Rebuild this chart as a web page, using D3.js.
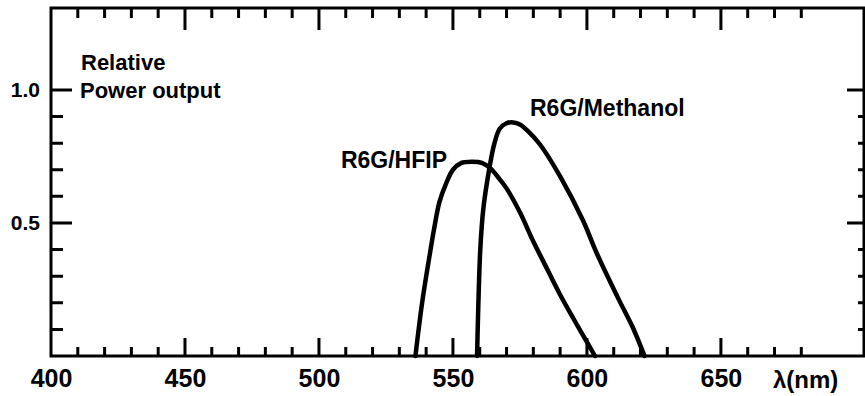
<!DOCTYPE html>
<html>
<head>
<meta charset="utf-8">
<script src="https://cdn.jsdelivr.net/npm/d3@7"></script>
<style>
    body { margin: 0; background: #fff; }
    svg { display: block; }
    .frame { fill: none; stroke: #000; stroke-width: 3; }
    .axis path.domain { display: none; }
    .axis text { font-family: "Liberation Sans", Arial, sans-serif; font-weight: bold; fill: #000; }
    .curve { fill: none; stroke: #000; stroke-width: 4.5; stroke-linejoin: round; stroke-linecap: round; }
    .note { font-family: "Liberation Sans", Arial, sans-serif; font-weight: bold; fill: #000; }
</style>
</head>
<body>
<svg class="graph"></svg>
<script>
// wavelength (nm) / relative power
const hfipNm = [536, 538.5, 541, 543, 545, 547.5, 550, 553, 557, 561, 564, 567, 570, 575, 580, 584, 590, 595, 599, 603];
const hfipPower = [0, 0.2, 0.36, 0.48, 0.58, 0.65, 0.70, 0.725, 0.73, 0.725, 0.705, 0.67, 0.63, 0.54, 0.43, 0.35, 0.23, 0.14, 0.07, 0];

const methanolNm = [559, 559.5, 560.2, 561.3, 563.5, 565.5, 567.5, 570, 572.5, 575, 578, 582.5, 590, 598.5, 603.5, 612, 617, 621.5];
const methanolPower = [0, 0.2, 0.4, 0.55, 0.70, 0.80, 0.855, 0.875, 0.878, 0.87, 0.845, 0.795, 0.675, 0.51, 0.39, 0.21, 0.11, 0];

// ticks
const xTicks = d3.range(410, 690, 10);
const xMajor = [450, 500, 550, 600, 650];
const xLabels = [400, 450, 500, 550, 600, 650];
const yTicks = [0.1, 0.2, 0.3, 0.4, 0.5, 0.6, 0.7, 0.8, 0.9, 1.0];
const yMajor = [0.5, 1.0];

const size = {width: 865, height: 396};
const plot = {left: 51, right: 864, top: 8, bottom: 356};
const tickW = 3;

const svg = d3.select(".graph")
    .attr("width", size.width)
    .attr("height", size.height);

const x = d3.scaleLinear().domain([400, 703.4]).range([plot.left, plot.right]);
const y = d3.scaleLinear().domain([0, 1.308]).range([plot.bottom, plot.top]);

const isMajorX = d => xMajor.includes(d);
const isMajorY = d => yMajor.some(v => Math.abs(v - d) < 1e-9);

// frame first, ticks on top of it
svg.append("rect")
    .attr("class", "frame")
    .attr("x", plot.left)
    .attr("y", plot.top)
    .attr("width", plot.right - plot.left)
    .attr("height", plot.bottom - plot.top);

// tick marks, one path per side
const tickPath = (values, fn) => values.map(fn).join("");

svg.append("path")
    .attr("fill", "none").attr("stroke", "#000").attr("stroke-width", tickW)
    .attr("d", tickPath(xTicks, d => `M${x(d)},${plot.bottom}V${plot.bottom - (isMajorX(d) ? 18 : 9)}`)
        + tickPath(xTicks, d => `M${x(d)},${plot.top}V${plot.top + (isMajorX(d) ? 22 : 10)}`)
        + tickPath(yTicks, d => `M${plot.left},${y(d)}H${plot.left + (isMajorY(d) ? 21 : 12)}`)
        + tickPath(yTicks, d => `M${plot.right},${y(d)}H${plot.right - (isMajorY(d) ? 17 : 6)}`));

// labels through the d3 axes
svg.append("g")
    .attr("class", "axis")
    .attr("transform", `translate(0,${plot.bottom})`)
    .call(d3.axisBottom(x).tickValues(xLabels).tickSize(0).tickPadding(13).tickFormat(d3.format("d")))
    .call(g => g.selectAll(".tick line").remove())
    .selectAll("text").style("font-size", "25px");

svg.append("g")
    .attr("class", "axis")
    .attr("transform", `translate(${plot.left},0)`)
    .call(d3.axisLeft(y).tickValues(yMajor).tickSize(0).tickPadding(11).tickFormat(d3.format(".1f")))
    .call(g => g.selectAll(".tick line").remove())
    .selectAll("text").style("font-size", "21px");

// curves
const valueLine = d3.line()
    .x(d => x(d[0]))
    .y(d => y(d[1]))
    .curve(d3.curveCatmullRom.alpha(0.5));

svg.append("path")
    .attr("class", "curve")
    .attr("d", valueLine(d3.zip(hfipNm, hfipPower)));

svg.append("path")
    .attr("class", "curve")
    .attr("d", valueLine(d3.zip(methanolNm, methanolPower)));

// texts
svg.append("text").attr("class", "note").attr("x", 81).attr("y", 70)
    .style("font-size", "22px").text("Relative");
svg.append("text").attr("class", "note").attr("x", 80).attr("y", 98)
    .style("font-size", "22px").text("Power output");
svg.append("text").attr("class", "note").attr("x", 447).attr("y", 168)
    .attr("text-anchor", "end").style("font-size", "23px").text("R6G/HFIP");
svg.append("text").attr("class", "note").attr("x", 530).attr("y", 116)
    .style("font-size", "23px").text("R6G/Methanol");
svg.append("text").attr("class", "note").attr("x", 773).attr("y", 388)
    .style("font-size", "24px").text("λ(nm)");
</script>
</body>
</html>
